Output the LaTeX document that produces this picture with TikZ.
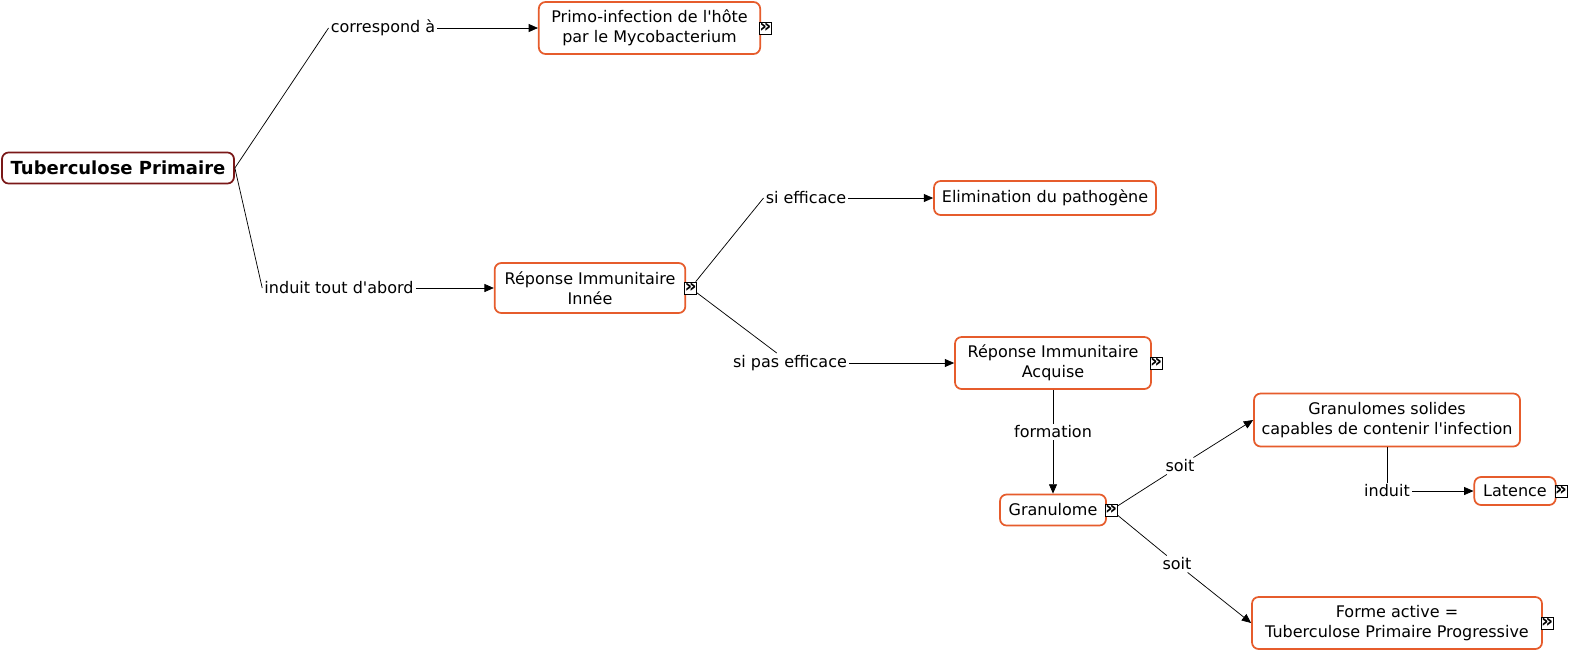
\documentclass[tikz,border=0pt]{standalone}
\usepackage{fontspec}
\setmainfont{DejaVu Sans}
\usetikzlibrary{positioning,arrows.meta}
\definecolor{conc}{RGB}{230,92,44}
\definecolor{rootred}{RGB}{122,24,24}
\definecolor{ink}{RGB}{0,0,0}
\tikzset{
  concept/.style={draw=conc, line width=1.3pt, rounded corners=5pt, fill=white, align=center,
                  inner xsep=4pt, inner ysep=3pt, font=\fontsize{12}{15}\selectfont, text=ink},
  main/.style={concept, draw=rootred, font=\fontsize{13.5}{15}\selectfont\bfseries},
  link/.style={fill=white, inner sep=1.5pt, font=\fontsize{12}{14}\selectfont, text=ink},
  icon/.style={draw=ink, fill=white, line width=0.5pt, inner sep=0pt, minimum size=9pt,
               font=\fontsize{14}{14}\selectfont\bfseries},
  ln/.style={draw=ink, line width=0.55pt},
  arr/.style={ln, -{Triangle[length=7pt,width=6pt]}},
}
\begin{document}
\begin{tikzpicture}[x=0.75pt, y=-0.75pt]
  \fill[white] (0,0) rectangle (1569,651);
  \useasboundingbox (0,0) rectangle (1569,651);

  % concepts
  \node[main, minimum width=174pt, minimum height=23.3pt] (tp) at (118,168) {Tuberculose Primaire};
  \node[concept, minimum width=166pt, minimum height=39pt] (primo) at (649.5,28) {Primo-infection de l\textquotesingle hôte\\par le Mycobacterium};
  \node[concept, minimum width=143pt, minimum height=37.5pt] (innee) at (590,288) {Réponse Immunitaire\\Innée};
  \node[concept, minimum width=166.5pt, minimum height=25.5pt] (elim) at (1045,198) {Elimination du pathogène};
  \node[concept, minimum width=147pt, minimum height=39pt] (acq) at (1053,363) {Réponse Immunitaire\\Acquise};
  \node[concept, minimum width=79.5pt, minimum height=23.3pt] (gran) at (1053,510) {Granulome};
  \node[concept, minimum width=199.5pt, minimum height=39.75pt] (solid) at (1387,420) {Granulomes solides\\capables de contenir l\textquotesingle infection};
  \node[concept, minimum width=61pt, minimum height=21pt] (lat) at (1515,491) {Latence};
  \node[concept, minimum width=217.5pt, minimum height=39pt] (forme) at (1397,623) {Forme active =\\Tuberculose Primaire Progressive};

  % expand icons
  \node[icon, right=-1.5pt of primo] (iPrimo) {»};
  \node[icon, right=-1.5pt of innee] (iInnee) {»};
  \node[icon, right=-1.5pt of acq] (iAcq) {»};
  \node[icon, right=-1.5pt of gran] (iGran) {»};
  \node[icon, right=-1.5pt of lat] (iLat) {»};
  \node[icon, right=-1.5pt of forme] (iForme) {»};

  % linking phrases
  \node[link] (corr) at (383,28) {correspond à};
  \node[link] (induit1) at (339,288) {induit tout d\textquotesingle abord};
  \node[link] (sieff) at (806,198) {si efficace};
  \node[link] (sipas) at (790,363) {si pas efficace};
  \node[link] (form) at (1053,432) {formation};
  \node[link] (soit1) at (1180,466) {soit};
  \node[link] (soit2) at (1177,564) {soit};
  \node[link] (induit2) at (1387,491) {induit};

  \draw[ln] (tp.east) -- (corr.west);
  \draw[arr] (corr) -- (primo);
  \draw[ln] (tp.east) -- (induit1.west);
  \draw[arr] (induit1) -- (innee);
  \draw[ln] (iInnee) -- (sieff.west);
  \draw[arr] (sieff) -- (elim);
  \draw[ln] (iInnee) -- (sipas);
  \draw[arr] (sipas) -- (acq);
  \draw[ln] (acq) -- (form);
  \draw[arr] (form) -- (gran);
  \draw[ln] (iGran) -- (soit1);
  \draw[arr] (soit1) -- (solid.west);
  \draw[ln] (iGran) -- (soit2);
  \draw[arr] (soit2) -- (forme.west);
  \draw[ln] (solid) -- (induit2);
  \draw[arr] (induit2) -- (lat);
\end{tikzpicture}
\end{document}
